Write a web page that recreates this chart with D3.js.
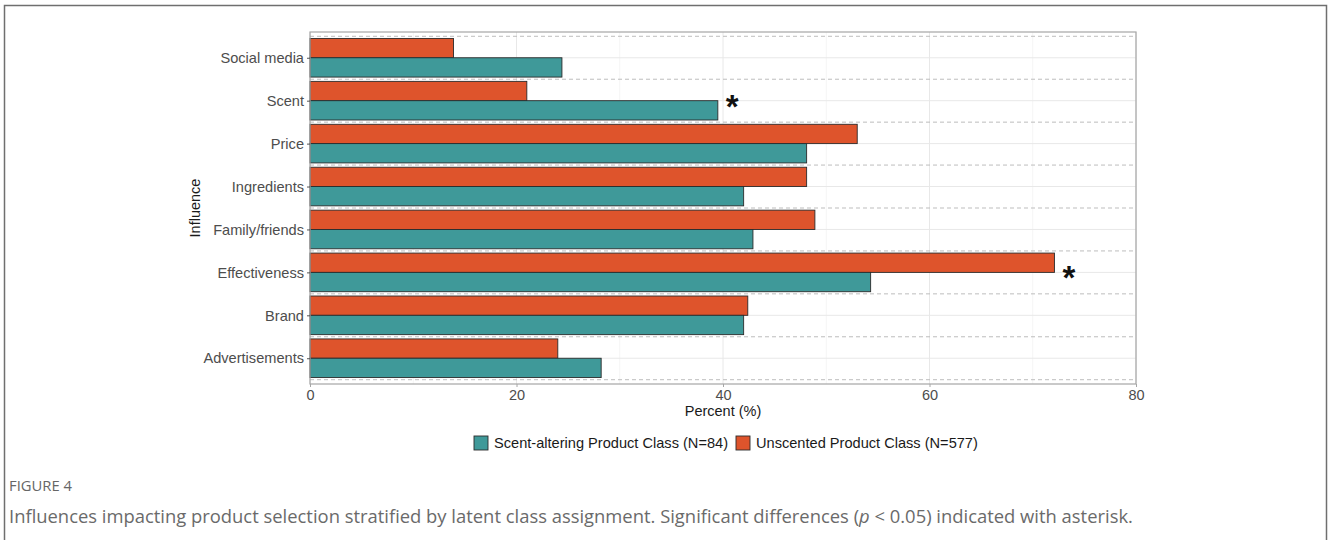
<!DOCTYPE html>
<html>
<head>
<meta charset="utf-8">
<script src="https://cdn.jsdelivr.net/npm/d3@7"></script>
<style>
  html, body { margin: 0; padding: 0; background: #fff; }
  svg { display: block; }
</style>
</head>
<body>
<svg id="chart" width="1328" height="540"></svg>
<script>
// Influences on product choice, percent of respondents in each latent class
const categories = ["Social media", "Scent", "Price", "Ingredients", "Family/friends", "Effectiveness", "Brand", "Advertisements"];
const seriesNames = ["Scent-altering Product Class (N=84)", "Unscented Product Class (N=577)"];
const scentAltering = [24.4, 39.5, 48.1, 42.0, 42.9, 54.3, 42.0, 28.2];
const unscented = [13.9, 21.0, 53.0, 48.1, 48.9, 72.1, 42.4, 24.0];
const significant = [false, true, false, false, false, true, false, false];
const xTicks = [0, 20, 40, 60, 80];
const xMinor = [10, 30, 50, 70];

const colors = { "Scent-altering Product Class (N=84)": "#3f9999", "Unscented Product Class (N=577)": "#de542c" };

const svg = d3.select("#chart");
const W = 1328, H = 540;
const sans = "Liberation Sans, Arial, sans-serif";

// figure frame
svg.append("path")
  .attr("d", `M4.5,${H} V5.5 H1326.5 V${H}`)
  .attr("fill", "none").attr("stroke", "#6f6f6f").attr("stroke-width", 1.5);

const panel = { left: 310, right: 1136, top: 32, bottom: 384 };

const x = d3.scaleLinear().domain([0, 80]).range([panel.left, panel.right]);
// discrete axis with 0.6 expansion: positions 1..8 bottom to top
const n = categories.length;
const yPos = d3.scaleLinear().domain([0.4, n + 0.6]).range([panel.bottom, panel.top]);
const catIndex = c => n - categories.indexOf(c); // first category at top

const g = svg.append("g");

// minor vertical grid
g.selectAll(".xminor").data(xMinor).join("line")
  .attr("x1", d => x(d)).attr("x2", d => x(d))
  .attr("y1", panel.top).attr("y2", panel.bottom)
  .attr("stroke", "#f3f3f3").attr("stroke-width", 0.8);
// major vertical grid
g.selectAll(".xmajor").data(xTicks).join("line")
  .attr("x1", d => x(d)).attr("x2", d => x(d))
  .attr("y1", panel.top).attr("y2", panel.bottom)
  .attr("stroke", "#e8e8e8").attr("stroke-width", 1);
// horizontal grid at category centres
g.selectAll(".ymajor").data(categories).join("line")
  .attr("x1", panel.left).attr("x2", panel.right)
  .attr("y1", d => yPos(catIndex(d))).attr("y2", d => yPos(catIndex(d)))
  .attr("stroke", "#e8e8e8").attr("stroke-width", 1);
// dashed separators between categories
const seps = d3.range(n + 1).map(i => i + 0.5);
g.selectAll(".sep").data(seps).join("line")
  .attr("x1", panel.left).attr("x2", panel.right)
  .attr("y1", d => yPos(d)).attr("y2", d => yPos(d))
  .attr("stroke", "#bdbdbd").attr("stroke-width", 1)
  .attr("stroke-dasharray", "4,3");

// bars: dodge width 0.9, unscented on top, scent-altering below
const bw = 0.45;
const rows = [];
categories.forEach((c, i) => {
  rows.push({ cat: c, series: seriesNames[1], value: unscented[i], lo: catIndex(c), hi: catIndex(c) + bw });
  rows.push({ cat: c, series: seriesNames[0], value: scentAltering[i], lo: catIndex(c) - bw, hi: catIndex(c) });
});
g.selectAll(".bar").data(rows).join("rect")
  .attr("x", x(0))
  .attr("y", d => yPos(d.hi))
  .attr("width", d => x(d.value) - x(0))
  .attr("height", d => yPos(d.lo) - yPos(d.hi))
  .attr("fill", d => colors[d.series])
  .attr("stroke", "#2b2b2b").attr("stroke-width", 0.9);

// asterisks marking significant differences
const stars = categories.map((c, i) => ({ cat: c, sig: significant[i], max: Math.max(scentAltering[i], unscented[i]) }))
  .filter(d => d.sig);
g.selectAll(".star").data(stars).join("text")
  .attr("x", d => x(d.max + 1.4))
  .attr("y", d => yPos(catIndex(d.cat)) + 17)
  .attr("text-anchor", "middle")
  .attr("font-family", sans)
  .attr("font-weight", "bold")
  .attr("font-size", 33)
  .attr("fill", "#111")
  .text("*");

// panel border
svg.append("rect")
  .attr("x", panel.left).attr("y", panel.top)
  .attr("width", panel.right - panel.left).attr("height", panel.bottom - panel.top)
  .attr("fill", "none").attr("stroke", "#a6a6a6").attr("stroke-width", 1.2);

// x axis
const xAxis = svg.append("g").attr("transform", `translate(0,${panel.bottom})`)
  .call(d3.axisBottom(x).tickValues(xTicks).tickSize(3).tickPadding(3).tickFormat(d3.format("d")));
xAxis.select(".domain").remove();
xAxis.selectAll("line").attr("stroke", "#a6a6a6");
xAxis.selectAll("text").attr("font-family", sans)
  .attr("font-size", 14.5).attr("fill", "#4d4d4d");

// y axis
const yBand = d3.scalePoint().domain(categories).range([yPos(n), yPos(1)]);
const yAxis = svg.append("g").attr("transform", `translate(${panel.left},0)`)
  .call(d3.axisLeft(yBand).tickSize(3).tickPadding(3));
yAxis.select(".domain").remove();
yAxis.selectAll("line").attr("stroke", "#555");
yAxis.selectAll("text").attr("font-family", sans)
  .attr("font-size", 14.6).attr("fill", "#4d4d4d");

// axis titles
svg.append("text")
  .attr("x", (panel.left + panel.right) / 2).attr("y", 416)
  .attr("text-anchor", "middle")
  .attr("font-family", sans)
  .attr("font-size", 14.5).attr("fill", "#1a1a1a")
  .text("Percent (%)");
svg.append("text")
  .attr("transform", `translate(200,${(panel.top + panel.bottom) / 2}) rotate(-90)`)
  .attr("text-anchor", "middle")
  .attr("font-family", sans)
  .attr("font-size", 14.5).attr("fill", "#1a1a1a")
  .text("Influence");

// legend
const legend = svg.append("g").attr("transform", "translate(0,443)");
const legendX = [474, 736];
seriesNames.forEach((s, i) => {
  legend.append("rect")
    .attr("x", legendX[i]).attr("y", -7)
    .attr("width", 14).attr("height", 14)
    .attr("fill", colors[s]).attr("stroke", "#2b2b2b").attr("stroke-width", 0.9);
  legend.append("text")
    .attr("x", legendX[i] + 20).attr("y", 5)
    .attr("font-family", sans)
    .attr("font-size", 14.6).attr("fill", "#1a1a1a")
    .text(s);
});

// caption
svg.append("text")
  .attr("x", 9).attr("y", 491)
  .attr("font-family", "Open Sans, Noto Sans, sans-serif")
  .attr("font-size", 14.8).attr("fill", "#666")
  .text("FIGURE 4");
const cap = svg.append("text")
  .attr("x", 9).attr("y", 523)
  .attr("font-family", "Open Sans, Noto Sans, sans-serif")
  .attr("font-size", 18.4).attr("fill", "#6a6a6a");
cap.append("tspan").text("Influences impacting product selection stratified by latent class assignment. Significant differences (");
cap.append("tspan").attr("font-style", "italic").text("p");
cap.append("tspan").text(" < 0.05) indicated with asterisk.");
</script>
</body>
</html>
